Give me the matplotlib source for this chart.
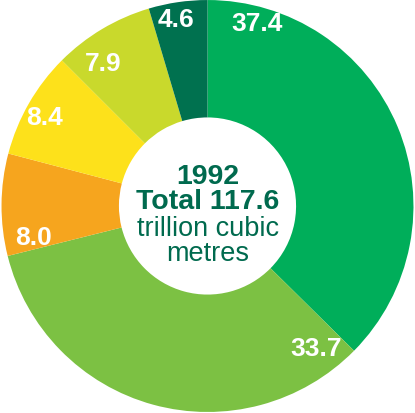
import matplotlib.pyplot as plt
import numpy as np

# share of proved reserves, 1992 (percent)
values = [37.4, 33.7, 8.0, 8.4, 7.9, 4.6]
labels = ['37.4', '33.7', '8.0', '8.4', '7.9', '4.6']
colors = ['#00ae5a', '#7cc143', '#f6a51e', '#fde11b', '#c9d92c', '#00714f']
year = '1992'
total = 'Total 117.6'
unit = ['trillion cubic', 'metres']

# label placement: (angle offset from wedge start in degrees, radius)
label_pos = [(-15, 0.92), (-8, 0.87), (-4, 0.86), (-14, 0.90), (-9, 0.86), (-7, 0.92)]

fig = plt.figure(figsize=(4.15, 4.14), dpi=100)
ax = fig.add_axes([0, 0, 1, 1])

wedges, _ = ax.pie(values, colors=colors, startangle=90, counterclock=False,
                   radius=1.0, wedgeprops=dict(width=0.57, edgecolor='none'))

# labels near the outer rim
start = 90
for v, lab, (off, r) in zip(values, labels, label_pos):
    a = np.radians(start + off)
    ax.text(r * np.cos(a), r * np.sin(a), lab, ha='center', va='center',
            color='white', fontsize=19, fontweight='bold', family='Liberation Sans')
    start -= v / sum(values) * 360

dark = '#006a4e'
ax.text(0, 0.145, year, ha='center', va='center', color=dark,
        fontsize=20.5, fontweight='bold', family='Liberation Sans')
ax.text(0, 0.025, total, ha='center', va='center', color=dark,
        fontsize=20.5, fontweight='bold', family='Liberation Sans')
ax.text(0, -0.105, unit[0], ha='center', va='center', color=dark,
        fontsize=19.5, family='Liberation Sans')
ax.text(0, -0.23, unit[1], ha='center', va='center', color=dark,
        fontsize=19.5, family='Liberation Sans')

ax.set_xlim(-1.005, 1.005)
ax.set_ylim(-1.005, 1.005)
ax.set_aspect('equal')
ax.axis('off')
plt.savefig('out.png', dpi=100)
